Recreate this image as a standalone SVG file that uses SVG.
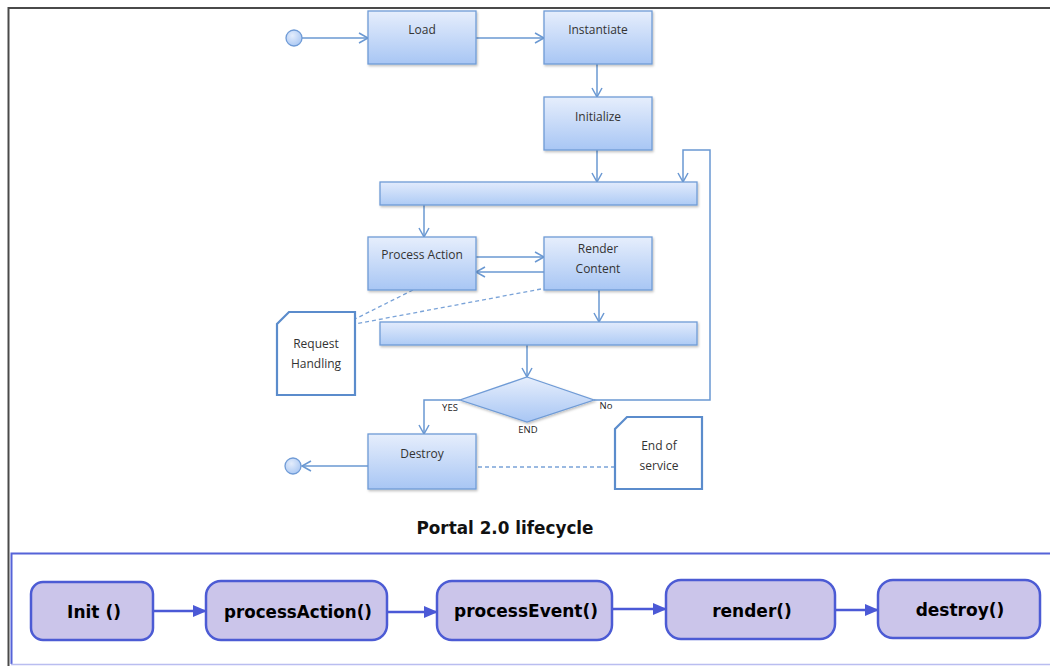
<svg xmlns="http://www.w3.org/2000/svg" width="1050" height="666" viewBox="0 0 1050 666">
  <defs>
    <linearGradient id="boxFill" x1="0" y1="0" x2="0" y2="1">
      <stop offset="0" stop-color="#e6eefc"/>
      <stop offset="1" stop-color="#a8c6f4"/>
    </linearGradient>
    <linearGradient id="barFill" x1="0" y1="0" x2="0" y2="1">
      <stop offset="0" stop-color="#e2ebfc"/>
      <stop offset="1" stop-color="#aecbf5"/>
    </linearGradient>
    <radialGradient id="dotFill" cx="0.4" cy="0.35" r="0.7">
      <stop offset="0" stop-color="#e4edfc"/>
      <stop offset="1" stop-color="#a9c7f3"/>
    </radialGradient>
    <marker id="vee" markerWidth="12" markerHeight="12" refX="10" refY="6" orient="auto" markerUnits="userSpaceOnUse">
      <path d="M1,1 L10,6 L1,11" fill="none" stroke="#6a98d2" stroke-width="1.5"/>
    </marker>
    <marker id="tri" markerWidth="14" markerHeight="14" refX="13" refY="7" orient="auto" markerUnits="userSpaceOnUse">
      <path d="M0,1 L14,7 L0,13 Z" fill="#4b59d6"/>
    </marker>
    <filter id="shadow" x="-10%" y="-10%" width="120%" height="130%">
      <feDropShadow dx="1" dy="1.5" stdDeviation="1" flood-color="#000" flood-opacity="0.25"/>
    </filter>
  </defs>
  <style>
    .box { fill: url(#boxFill); stroke: #6f9bd6; stroke-width: 1.3; filter: url(#shadow); }
    .bar { fill: url(#barFill); stroke: #6f9bd6; stroke-width: 1.3; filter: url(#shadow); }
    .note { fill: #ffffff; stroke: #5b8ccc; stroke-width: 2.2; }
    .lbl { font-family: "Open Sans", "Liberation Sans", sans-serif; font-size: 12px; fill: #333; text-anchor: middle; }
    .small { font-family: "Open Sans", "Liberation Sans", sans-serif; font-size: 9.5px; fill: #222; text-anchor: middle; }
    .flow { fill: none; stroke: #6a98d2; stroke-width: 1.5; marker-end: url(#vee); }
    .link { fill: none; stroke: #6a98d2; stroke-width: 1.5; }
    .dash { fill: none; stroke: #7aa3d8; stroke-width: 1.3; stroke-dasharray: 4 3; }
    .step { fill: #cbc5ea; stroke: #4c5bd4; stroke-width: 2.5; }
    .stepTxt { font-family: "DejaVu Sans", Verdana, sans-serif; font-weight: bold; font-size: 17px; fill: #000; text-anchor: middle; }
    .chain { fill: none; stroke: #4b59d6; stroke-width: 2.5; marker-end: url(#tri); }
  </style>

  <rect width="1050" height="666" fill="#ffffff"/>

  <!-- outer frame -->
  <path d="M8.5,666 L8.5,8 L1050,8" fill="none" stroke="#4a4a4a" stroke-width="2"/>

  <!-- connectors of the flowchart -->
  <g id="connectors">
    <path class="flow" d="M302,38 L368,38"/>
    <path class="flow" d="M476,38 L544,38"/>
    <path class="flow" d="M597,64 L597,97"/>
    <path class="flow" d="M597,150 L597,182"/>
    <path class="flow" d="M594,400 L710,400 L710,150 L683,150 L683,182"/>
    <path class="flow" d="M424,205 L424,237"/>
    <path class="flow" d="M476,257 L544,257"/>
    <path class="flow" d="M544,272 L476,272"/>
    <path class="flow" d="M599,290 L599,322"/>
    <path class="flow" d="M527,345 L527,377"/>
    <path class="flow" d="M460,400 L424,400 L424,434"/>
    <path class="flow" d="M368,466 L302,466"/>
    <path class="dash" d="M413,290 L355,319"/>
    <path class="dash" d="M541,289 L355,324"/>
    <path class="dash" d="M478,467 L615,467"/>

    <path class="chain" d="M153,611 L206,611"/>
    <path class="chain" d="M387,612 L437,612"/>
    <path class="chain" d="M612,609 L666,609"/>
    <path class="chain" d="M835,610 L878,610"/>
  </g>

  <!-- start and end points -->
  <g id="start">
    <circle cx="294" cy="38" r="8" fill="url(#dotFill)" stroke="#6f9bd6" stroke-width="1.3"/>
  </g>
  <g id="end">
    <circle cx="293" cy="466" r="8" fill="url(#dotFill)" stroke="#6f9bd6" stroke-width="1.3"/>
  </g>

  <g id="load">
    <rect class="box" x="368" y="11" width="108" height="53"/>
    <text class="lbl" x="422" y="34">Load</text>
  </g>
  <g id="instantiate">
    <rect class="box" x="544" y="11" width="108" height="53"/>
    <text class="lbl" x="598" y="34">Instantiate</text>
  </g>
  <g id="initialize">
    <rect class="box" x="544" y="97" width="108" height="53"/>
    <text class="lbl" x="598" y="121">Initialize</text>
  </g>
  <g id="fork">
    <rect class="bar" x="380" y="182" width="317" height="23"/>
  </g>
  <g id="process-action">
    <rect class="box" x="368" y="237" width="108" height="53"/>
    <text class="lbl" x="422" y="259">Process Action</text>
  </g>
  <g id="render-content">
    <rect class="box" x="544" y="237" width="108" height="53"/>
    <text class="lbl" x="598" y="253">Render</text>
    <text class="lbl" x="598" y="273">Content</text>
  </g>
  <g id="join">
    <rect class="bar" x="380" y="322" width="317" height="23"/>
  </g>
  <g id="decision">
    <path d="M527,377 L594,400 L527,422 L460,400 Z" fill="url(#boxFill)" stroke="#6f9bd6" stroke-width="1.3" filter="url(#shadow)"/>
    <text class="small" x="450" y="411">YES</text>
    <text class="small" x="606" y="409">No</text>
    <text class="small" x="528" y="433">END</text>
  </g>
  <g id="destroy">
    <rect class="box" x="368" y="434" width="108" height="55"/>
    <text class="lbl" x="422" y="458">Destroy</text>
  </g>
  <g id="request-handling">
    <path class="note" d="M289,312 L355,312 L355,395 L277,395 L277,324 Z"/>
    <text class="lbl" x="316" y="348">Request</text>
    <text class="lbl" x="316" y="368">Handling</text>
  </g>
  <g id="end-of-service">
    <path class="note" d="M627,417 L702,417 L702,489 L615,489 L615,429 Z"/>
    <text class="lbl" x="659" y="450">End of</text>
    <text class="lbl" x="659" y="470">service</text>
  </g>

  <text x="505" y="534" font-family="DejaVu Sans, Verdana, sans-serif" font-weight="bold" font-size="17" text-anchor="middle" textLength="177" lengthAdjust="spacingAndGlyphs" fill="#111">Portal 2.0 lifecycle</text>

  <!-- lifecycle method chain -->
  <path d="M11.5,664 L11.5,553.5 L1050,553.5" fill="none" stroke="#5563d8" stroke-width="2"/>
  <line x1="11" y1="664.5" x2="1050" y2="664.5" stroke="#b9bdf0" stroke-width="1.5"/>

  <g id="init">
    <rect class="step" x="31" y="582" width="122" height="58" rx="12"/>
    <text class="stepTxt" x="94" y="618">Init ()</text>
  </g>
  <g id="processAction">
    <rect class="step" x="206" y="581" width="181" height="59" rx="15"/>
    <text class="stepTxt" x="298" y="618" textLength="148" lengthAdjust="spacingAndGlyphs">processAction()</text>
  </g>
  <g id="processEvent">
    <rect class="step" x="437" y="581" width="175" height="59" rx="15"/>
    <text class="stepTxt" x="526" y="617" textLength="144" lengthAdjust="spacingAndGlyphs">processEvent()</text>
  </g>
  <g id="render">
    <rect class="step" x="666" y="580" width="169" height="59" rx="15"/>
    <text class="stepTxt" x="752" y="617">render()</text>
  </g>
  <g id="destroy-method">
    <rect class="step" x="878" y="580" width="162" height="58" rx="15"/>
    <text class="stepTxt" x="960" y="616">destroy()</text>
  </g>
</svg>
